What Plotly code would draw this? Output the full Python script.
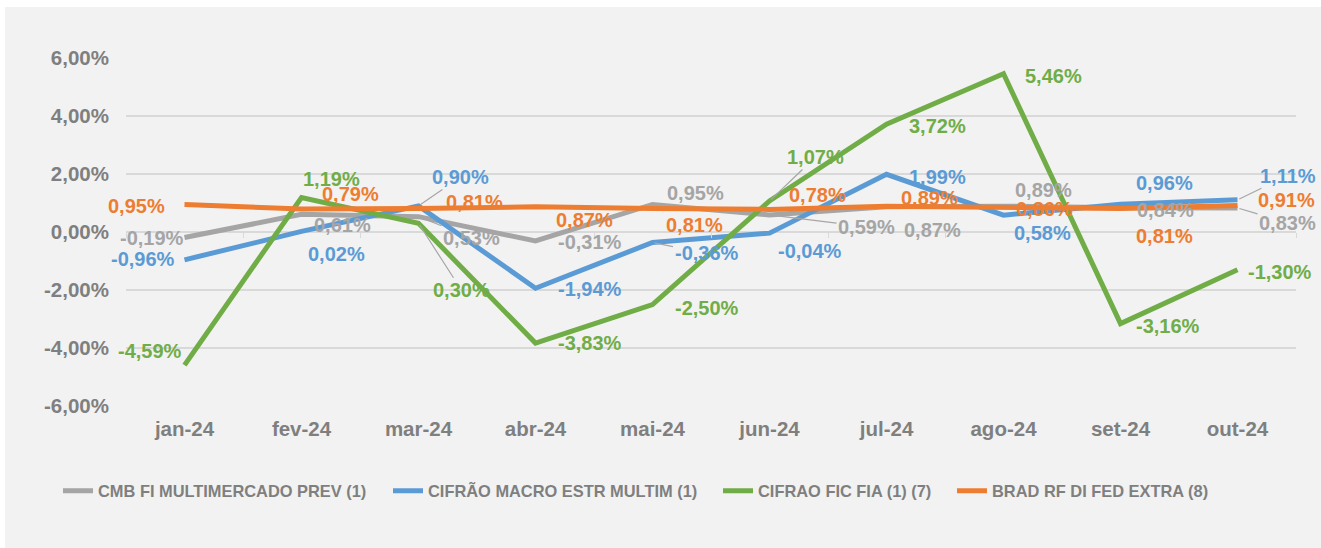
import plotly.graph_objects as go

months = ["jan-24", "fev-24", "mar-24", "abr-24", "mai-24", "jun-24", "jul-24", "ago-24", "set-24", "out-24"]

names = ["CMB FI MULTIMERCADO PREV (1)", "CIFRÃO MACRO ESTR MULTIM (1)", "CIFRAO FIC FIA (1) (7)", "BRAD RF DI FED EXTRA (8)"]

cmb = [-0.19, 0.61, 0.53, -0.31, 0.95, 0.59, 0.87, 0.89, 0.84, 0.83]
cifrao_macro = [-0.96, 0.02, 0.90, -1.94, -0.36, -0.04, 1.99, 0.58, 0.96, 1.11]
cifrao_fia = [-4.59, 1.19, 0.30, -3.83, -2.50, 1.07, 3.72, 5.46, -3.16, -1.30]
brad = [0.95, 0.79, 0.81, 0.87, 0.81, 0.78, 0.89, 0.86, 0.81, 0.91]

y_ticks = [-6, -4, -2, 0, 2, 4, 6]

series = [cmb, cifrao_macro, cifrao_fia, brad]
colors = ["#A5A5A5", "#5B9BD5", "#70AD47", "#ED7D31"]

# label placement offsets (pixels) relative to each point: (dx, dy), dy positive downward
offsets = [
    [(-33, 0), (41, 11), (53, 21), (54, 1), (43, -11), (97, 12), (46, 23), (40, -16), (45, 2), (50, 15)],
    [(-42, -1), (35, 23), (42, -29), (54, 1), (54, 11), (40, 18), (51, 3), (39, 18), (44, -21), (50, -24)],
    [(-35, -14), (30, -18), (43, 67), (54, 0), (54, 3), (46, -44), (51, 2), (50, 2), (47, 2), (42, 2)],
    [(-48, 2), (49, -15), (56, -7), (49, 13), (42, 16), (48, -14), (43, -8), (41, 2), (44, 27), (49, -6)],
]
# which labels show a leader line
leaders = [
    [False, False, True, False, False, True, False, False, False, True],
    [False, False, True, False, True, False, False, False, False, True],
    [False, False, True, False, False, True, False, False, False, False],
    [False] * 10,
]
# legend box left edges (pixels)
legend_left = [58, 388, 718, 952]

FONT = "Liberation Sans, Arial, sans-serif"
AXIS_GREY = "#7F7F7F"
L, R, T, B = 126, 25, 58, 142
PW, PH = 1321 - L - R, 548 - T - B

fig = go.Figure()
legend_ids = ["legend", "legend2", "legend3", "legend4"]
for name, vals, col, lid in zip(names, series, colors, legend_ids):
    fig.add_trace(go.Scatter(
        x=months, y=vals, name=name, mode="lines", legend=lid,
        line=dict(color=col, width=5),
    ))

# invisible helper trace for the 0-crossing axis tick marks
fig.add_trace(go.Scatter(x=months, y=[0] * len(months), xaxis="x2", mode="lines",
                         line=dict(width=0), showlegend=False, hoverinfo="skip"))

def fmt(v):
    return f"{v:.2f}".replace(".", ",") + "%"

annotations = []
for s, (vals, col) in enumerate(zip(series, colors)):
    for i, v in enumerate(vals):
        dx, dy = offsets[s][i]
        annotations.append(dict(
            x=months[i], y=v, xref="x", yref="y",
            text=fmt(v), showarrow=True, ax=dx, ay=dy,
            arrowhead=0, arrowwidth=1.2, standoff=2,
            arrowcolor="#A6A6A6" if leaders[s][i] else "rgba(0,0,0,0)",
            font=dict(family=FONT, size=20, color=col, weight="bold"),
        ))

legend_common = dict(
    orientation="h", xanchor="left", y=(T + PH - 491) / PH, yanchor="middle",
    font=dict(family=FONT, size=16.4, color=AXIS_GREY, weight="bold"),
    bgcolor="rgba(0,0,0,0)", itemwidth=30,
)
legend_layout = {}
for lid, lx in zip(legend_ids, legend_left):
    legend_layout[lid] = dict(legend_common, x=(lx - L) / PW)

fig.update_layout(
    width=1321, height=548,
    margin=dict(l=L, r=R, t=T, b=B),
    paper_bgcolor="white",
    plot_bgcolor="#F2F2F2",
    font=dict(family=FONT, color=AXIS_GREY, weight="bold"),
    showlegend=True,
    annotations=annotations,
    shapes=[dict(type="rect", xref="paper", yref="paper",
                 x0=(5 - L) / PW, x1=1.1, y0=-0.5, y1=(T + PH - 7) / PH,
                 fillcolor="#F2F2F2", line=dict(width=0), layer="below")],
    xaxis=dict(
        type="category", range=[-0.5, 9.5], showgrid=False, zeroline=False,
        showline=False, ticks="",
        tickfont=dict(family=FONT, size=20.5, color=AXIS_GREY, weight="bold"),
        ticklabelstandoff=8,
    ),
    xaxis2=dict(
        type="category", range=[-0.5, 9.5], overlaying="x", anchor="free",
        position=0.5, side="bottom", showticklabels=False, showgrid=False,
        zeroline=False, showline=False, ticks="outside", ticklen=5,
        tickcolor="#D9D9D9", tickwidth=1.2, tickson="boundaries",
    ),
    yaxis=dict(
        range=[-6, 6], tickvals=y_ticks, ticktext=[fmt(t) for t in y_ticks],
        showgrid=True, gridcolor="#D9D9D9", gridwidth=1.5,
        zeroline=True, zerolinecolor="#D9D9D9", zerolinewidth=1.5,
        showline=False, ticks="",
        tickfont=dict(family=FONT, size=20.5, color=AXIS_GREY, weight="bold"),
        ticklabelstandoff=16,
    ),
    **legend_layout,
)

fig.write_html("out.html", config={"displayModeBar": False},
               post_script="document.body.style.margin='0';")
